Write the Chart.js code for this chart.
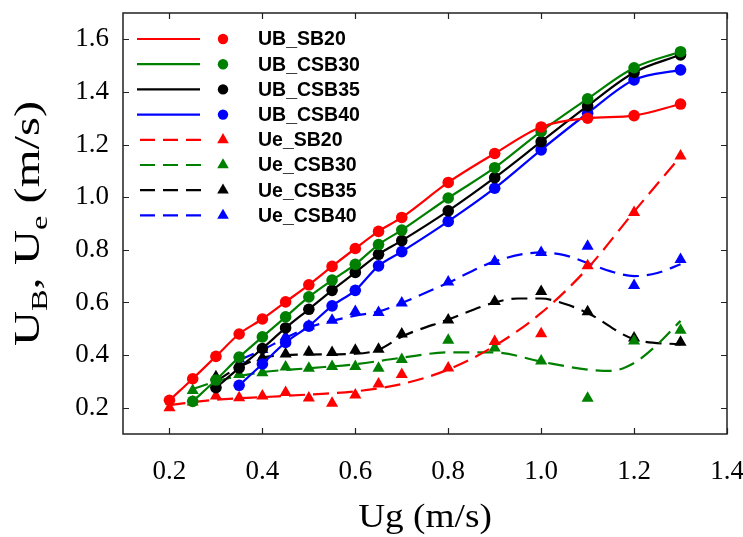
<!DOCTYPE html>
<html><head><meta charset="utf-8">
<script src="https://cdn.jsdelivr.net/npm/chart.js@4/dist/chart.umd.min.js"></script>
<style>html,body{margin:0;padding:0;background:#fff;}#wrap{width:743px;height:537px;}</style>
</head><body><div id="wrap"><canvas id="c" width="743" height="537"></canvas></div>
<script>
// ---- data ----
const ug = [0.2,0.25,0.3,0.35,0.4,0.45,0.5,0.55,0.6,0.65,0.7,0.8,0.9,1.0,1.1,1.2,1.3];
const UB_SB20  = [0.228,0.31,0.395,0.48,0.537,0.602,0.667,0.737,0.805,0.870,0.923,1.056,1.166,1.267,1.30,1.31,1.354];
const UB_CSB30 = [null,0.224,0.305,0.392,0.469,0.545,0.621,0.685,0.745,0.82,0.875,0.997,1.112,1.25,1.374,1.492,1.553];
const UB_CSB35 = [null,null,0.276,0.351,0.425,0.503,0.574,0.646,0.714,0.783,0.835,0.948,1.074,1.211,1.347,1.474,1.541];
const UB_CSB40 = [null,null,null,0.285,0.366,0.448,0.51,0.587,0.646,0.739,0.793,0.908,1.034,1.18,1.319,1.446,1.484];
const Ue_SB20  = [0.20,0.222,0.244,0.238,0.244,0.258,0.237,0.217,0.248,0.29,0.326,0.351,0.452,0.481,0.739,0.942,1.157];
const Ue_CSB30 = [null,0.265,0.288,0.326,0.333,0.355,0.35,0.357,0.357,0.35,0.383,0.456,0.427,0.377,0.236,0.453,0.494];
const Ue_CSB35 = [null,null,0.318,0.365,0.39,0.404,0.412,0.41,0.418,0.422,0.48,0.533,0.604,0.642,0.565,0.465,0.449];
const Ue_CSB40 = [null,null,null,0.385,0.421,0.47,0.51,0.532,0.566,0.562,0.598,0.678,0.756,0.79,0.814,0.664,0.763];

// fitted (dashed) curves
const fitSB20_x  = [0.2,0.3,0.4,0.5,0.6,0.7,0.8,0.9,1.0,1.1,1.2,1.3];
const fitSB20_y  = [0.21,0.23,0.24,0.25,0.262,0.29,0.345,0.435,0.56,0.73,0.945,1.155];
const fitCSB30_x = [0.25,0.3,0.35,0.4,0.5,0.6,0.7,0.8,0.9,1.0,1.1,1.15,1.2,1.25,1.3];
const fitCSB30_y = [0.27,0.30,0.32,0.335,0.35,0.365,0.39,0.41,0.41,0.375,0.345,0.34,0.37,0.44,0.53];
const fitCSB35_x = [0.3,0.35,0.4,0.45,0.5,0.6,0.65,0.7,0.8,0.9,0.95,1.0,1.05,1.1,1.2,1.3];
const fitCSB35_y = [0.30,0.355,0.39,0.40,0.402,0.405,0.42,0.47,0.535,0.60,0.615,0.615,0.595,0.56,0.46,0.44];
const fitCSB40_x = [0.35,0.4,0.45,0.5,0.55,0.6,0.65,0.7,0.8,0.9,1.0,1.05,1.1,1.15,1.2,1.25,1.3];
const fitCSB40_y = [0.38,0.42,0.465,0.505,0.53,0.55,0.565,0.598,0.675,0.756,0.79,0.78,0.75,0.718,0.70,0.712,0.745];

const xTicks = [0.2,0.4,0.6,0.8,1.0,1.2,1.4];
const yTicks = [0.2,0.4,0.6,0.8,1.0,1.2,1.4,1.6];
const seriesNames = ['UB_SB20','UB_CSB30','UB_CSB35','UB_CSB40','Ue_SB20','Ue_CSB30','Ue_CSB35','Ue_CSB40'];
const xTitle = 'Ug (m/s)';

// ---- styles ----
const RED='#ff0000', GREEN='#008000', BLACK='#000000', BLUE='#0000ff';
const cols=[RED,GREEN,BLACK,BLUE];
const DASH=[16,8];
const CR=5.8, TR=7;

function pts(xs, ys){ return xs.map((x,i)=>({x:x,y:ys[i]})).filter(p=>p.y!==null && p.y!==undefined); }

const ubSets=[UB_SB20,UB_CSB30,UB_CSB35,UB_CSB40];
const ueSets=[Ue_SB20,Ue_CSB30,Ue_CSB35,Ue_CSB40];
const fits=[[fitSB20_x,fitSB20_y],[fitCSB30_x,fitCSB30_y],[fitCSB35_x,fitCSB35_y],[fitCSB40_x,fitCSB40_y]];

const datasets=[];
ubSets.forEach((d,i)=>datasets.push({label:seriesNames[i],data:pts(ug,d),showLine:true,borderColor:cols[i],backgroundColor:cols[i],
  borderWidth:2.2,pointRadius:CR,pointStyle:'circle',pointBorderWidth:0,pointBackgroundColor:cols[i],cubicInterpolationMode:'monotone'}));
ueSets.forEach((d,i)=>datasets.push({label:seriesNames[i+4],data:pts(ug,d),showLine:false,borderColor:cols[i],backgroundColor:cols[i],
  pointRadius:TR,pointStyle:'triangle',pointBorderWidth:0,pointBackgroundColor:cols[i]}));
fits.forEach((f,i)=>datasets.push({label:seriesNames[i+4]+' fit',data:pts(f[0],f[1]),showLine:true,borderColor:cols[i],
  borderWidth:2.2,borderDash:DASH,pointRadius:0,cubicInterpolationMode:'monotone'}));

const frame={id:'frame',afterDraw(chart){
  const ctx=chart.ctx, a=chart.chartArea, xs=chart.scales.x, ys=chart.scales.y;
  ctx.save();
  ctx.strokeStyle='#222'; ctx.lineWidth=1.5;
  ctx.strokeRect(a.left,a.top,a.right-a.left,a.bottom-a.top);
  ctx.lineWidth=1.2;
  const L=6;
  ctx.beginPath();
  xTicks.forEach(v=>{const p=Math.round(xs.getPixelForValue(v))+0.5;
    ctx.moveTo(p,a.bottom);ctx.lineTo(p,a.bottom-L);ctx.moveTo(p,a.top);ctx.lineTo(p,a.top+L);});
  yTicks.forEach(v=>{const p=Math.round(ys.getPixelForValue(v))+0.5;
    ctx.moveTo(a.left,p);ctx.lineTo(a.left+L,p);ctx.moveTo(a.right,p);ctx.lineTo(a.right-L,p);});
  ctx.stroke();

  // legend
  for(let i=0;i<8;i++){
    const yy=39+i*25.2, c=cols[i%4], dashed=i>=4;
    ctx.strokeStyle=c; ctx.lineWidth=2.2;
    ctx.setLineDash(dashed?[15,8]:[]);
    ctx.beginPath(); ctx.moveTo(dashed?140:137,yy); ctx.lineTo(dashed?202:200,yy); ctx.stroke();
    ctx.setLineDash([]);
    ctx.fillStyle=c; ctx.beginPath();
    if(!dashed){ ctx.arc(223,yy,5.2,0,Math.PI*2); }
    else { let r=0; const R=6.7;
      ctx.moveTo(223+Math.sin(r)*R,yy-Math.cos(r)*R); r+=2*Math.PI/3;
      ctx.lineTo(223+Math.sin(r)*R,yy-Math.cos(r)*R); r+=2*Math.PI/3;
      ctx.lineTo(223+Math.sin(r)*R,yy-Math.cos(r)*R); ctx.closePath(); }
    ctx.fill();
    ctx.fillStyle='#000'; ctx.font='bold 19.5px "Liberation Sans", Arial, sans-serif';
    ctx.textAlign='left'; ctx.textBaseline='middle';
    ctx.fillText(seriesNames[i],258,yy+1);
  }

  // x title (slightly widened like the reference lettering)
  ctx.fillStyle='#000';
  ctx.font='33px "Liberation Serif", "Times New Roman", serif';
  ctx.textAlign='center'; ctx.textBaseline='alphabetic';
  ctx.save();
  ctx.translate((a.left+a.right)/2,527); ctx.scale(1.13,1);
  ctx.fillText(xTitle,0,0);
  ctx.restore();

  // y title with subscripts
  const parts=[['U',0],['B',1],[', U',0],['e',1],[' (m/s)',0]];
  const mainF='36px "Liberation Serif", "Times New Roman", serif', subF='24px "Liberation Serif", "Times New Roman", serif';
  let tw=0; parts.forEach(p=>{ctx.font=p[1]?subF:mainF; tw+=ctx.measureText(p[0]).width;});
  ctx.translate(39,(a.top+a.bottom)/2); ctx.rotate(-Math.PI/2); ctx.scale(1.35,1);
  ctx.textAlign='left';
  let xx=-tw/2;
  parts.forEach(p=>{ctx.font=p[1]?subF:mainF; ctx.fillText(p[0],xx,p[1]?8:0); xx+=ctx.measureText(p[0]).width;});
  ctx.restore();
}};

new Chart(document.getElementById('c'),{
  type:'scatter',
  data:{datasets:datasets},
  options:{
    responsive:false, animation:false, devicePixelRatio:1,
    layout:{padding:{top:13,right:16,left:0,bottom:0}},
    plugins:{legend:{display:false},tooltip:{enabled:false}},
    scales:{
      x:{type:'linear',min:0.1,max:1.4,
        grid:{display:false,drawTicks:false},border:{display:false},
        afterBuildTicks:s=>{s.ticks=xTicks.map(v=>({value:v}));},
        afterFit:s=>{s.height=103;s.paddingLeft=0;s.paddingRight=0;},
        ticks:{autoSkip:false,maxRotation:0,padding:22,color:'#000',font:{family:'"Liberation Serif", serif',size:27},callback:v=>Number(v).toFixed(1)}},
      y:{type:'linear',min:0.1,max:1.7,
        grid:{display:false,drawTicks:false},border:{display:false},
        afterBuildTicks:s=>{s.ticks=yTicks.map(v=>({value:v}));},
        afterFit:s=>{s.width=123;s.paddingTop=0;s.paddingBottom=0;},
        ticks:{autoSkip:false,padding:14,color:'#000',font:{family:'"Liberation Serif", serif',size:27},callback:v=>Number(v).toFixed(1)}}
    }
  },
  plugins:[frame]
});
</script></body></html>
